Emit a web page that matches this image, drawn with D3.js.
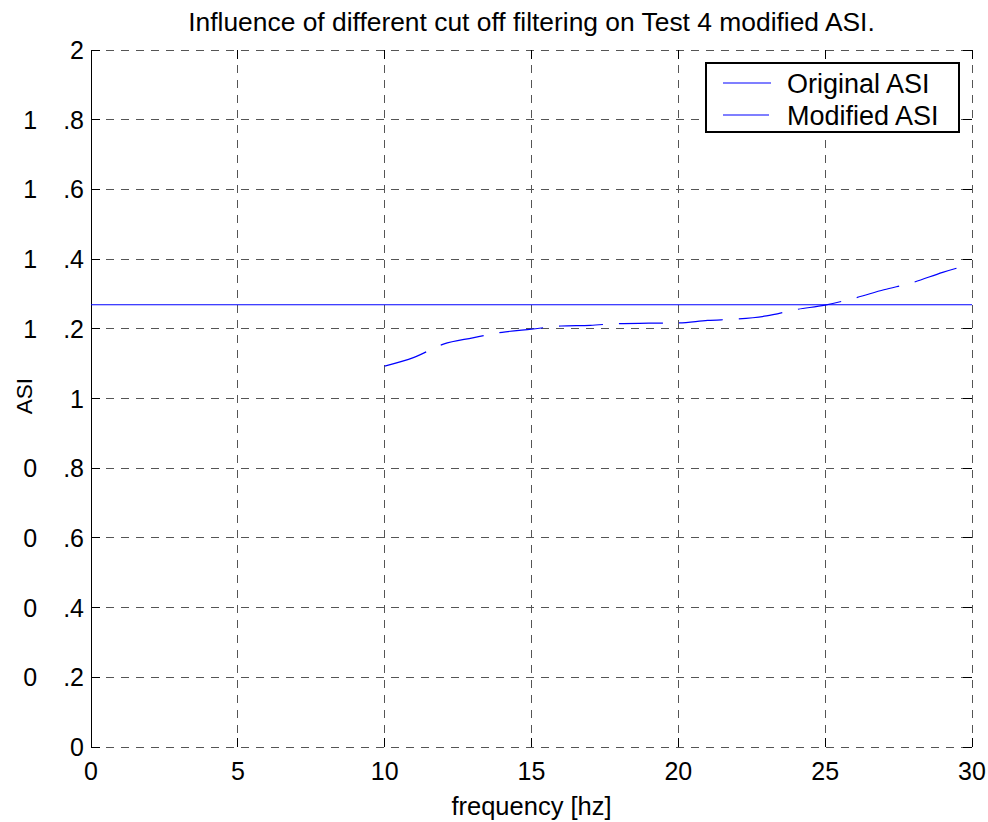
<!DOCTYPE html>
<html>
<head>
<meta charset="utf-8">
<style>
body { margin: 0; background: #fff; }
svg { font-family: "Liberation Sans", Arial, sans-serif; }
.grid line { stroke: #555; stroke-dasharray: 8,7; shape-rendering: crispEdges; }
.tick-mark { stroke: #000; shape-rendering: crispEdges; }
</style>
</head>
<body>
<svg width="988" height="822"></svg>
<script src="https://cdn.jsdelivr.net/npm/d3@7/dist/d3.min.js"></script>
<script>

var xTicks = [0, 5, 10, 15, 20, 25, 30];
var yTicks = [0, 0.2, 0.4, 0.6, 0.8, 1, 1.2, 1.4, 1.6, 1.8, 2];

// cut off frequency [hz]
var freq = [10, 11, 12, 13, 14, 15, 16, 17, 18, 19, 20, 21, 22, 23, 24, 25, 26, 27, 28, 29, 30];
var modifiedAsi = [1.093, 1.118, 1.156, 1.174, 1.190, 1.199, 1.208, 1.210, 1.215, 1.216, 1.217,
                   1.224, 1.228, 1.237, 1.255, 1.268, 1.288, 1.312, 1.333, 1.362, 1.386];
var originalAsi = 1.269;

var legendLabels = ['Original ASI', 'Modified ASI'];

var width = 988, height = 822;
var margin = {top: 50, right: 16, bottom: 75, left: 91};

var svg = d3.select('svg');

var x = d3.scaleLinear().domain([0, 30]).range([margin.left, width - margin.right]);
var y = d3.scaleLinear().domain([0, 2]).range([height - margin.bottom, margin.top]);

var x0 = x.range()[0], x1 = x.range()[1];
var y0 = y.range()[0], y1 = y.range()[1];

// grid (dashed), includes the top, right and bottom edges
var grid = svg.append('g').attr('class', 'grid');
grid.selectAll('.v').data(xTicks.filter(function (d) { return d > 0; }))
  .enter().append('line')
  .attr('x1', function (d) { return x(d); }).attr('x2', function (d) { return x(d); })
  .attr('y1', y1).attr('y2', y0);
grid.selectAll('.h').data(yTicks)
  .enter().append('line')
  .attr('y1', function (d) { return y(d); }).attr('y2', function (d) { return y(d); })
  .attr('x1', x0).attr('x2', x1);

// left axis line
svg.append('line').attr('class', 'tick-mark')
  .attr('x1', x0).attr('x2', x0).attr('y1', y1).attr('y2', y0);

// inward ticks on all sides
var tl = 9;
xTicks.forEach(function (d) {
  svg.append('line').attr('class', 'tick-mark')
    .attr('x1', x(d)).attr('x2', x(d)).attr('y1', y0).attr('y2', y0 - tl);
  svg.append('line').attr('class', 'tick-mark')
    .attr('x1', x(d)).attr('x2', x(d)).attr('y1', y1).attr('y2', y1 + tl);
});
yTicks.forEach(function (d) {
  svg.append('line').attr('class', 'tick-mark')
    .attr('x1', x0).attr('x2', x0 + tl).attr('y1', y(d)).attr('y2', y(d));
  svg.append('line').attr('class', 'tick-mark')
    .attr('x1', x1).attr('x2', x1 - tl).attr('y1', y(d)).attr('y2', y(d));
});

// tick labels
svg.selectAll('.xlab').data(xTicks).enter().append('text')
  .attr('x', function (d) { return x(d); })
  .attr('y', y0 + 33)
  .attr('text-anchor', 'middle')
  .style('font-size', '25px')
  .text(function (d) { return d; });

// y labels: the old renderer leaves a wide gap before the decimal point
var ylab = svg.selectAll('.ylab').data(yTicks).enter().append('text')
  .attr('x', x0 - 7)
  .attr('y', function (d) { return y(d); })
  .attr('dy', '0.36em')
  .attr('text-anchor', 'end')
  .style('font-size', '25px');
ylab.append('tspan').text(function (d) { return d3.format('~g')(d).split('.')[0]; });
ylab.filter(function (d) { return d % 1 !== 0; })
  .append('tspan')
  .attr('dx', 26)
  .text(function (d) { return '.' + d3.format('~g')(d).split('.')[1]; });

// lines
svg.append('line')
  .attr('x1', x0).attr('x2', x1)
  .attr('y1', y(originalAsi)).attr('y2', y(originalAsi))
  .attr('stroke', '#0000ff').attr('stroke-width', 1.2);

var line = d3.line()
  .x(function (d, i) { return x(freq[i]); })
  .y(function (d) { return y(d); })
  .curve(d3.curveMonotoneX);

svg.append('path')
  .datum(modifiedAsi)
  .attr('d', line)
  .attr('fill', 'none')
  .attr('stroke', '#0000ff')
  .attr('stroke-width', 1.2)
  .attr('stroke-dasharray', '44,16');

// titles
svg.append('text')
  .attr('x', (x0 + x1) / 2).attr('y', 31)
  .attr('text-anchor', 'middle')
  .style('font-size', '26.4px')
  .text('Influence of different cut off filtering on Test 4 modified ASI.');

svg.append('text')
  .attr('x', (x0 + x1) / 2).attr('y', 815)
  .attr('text-anchor', 'middle')
  .style('font-size', '25.5px')
  .text('frequency [hz]');

svg.append('text')
  .attr('transform', 'translate(32,396) rotate(-90)')
  .attr('text-anchor', 'middle')
  .style('font-size', '22.5px')
  .text('ASI');

// legend
var legend = svg.append('g').attr('transform', 'translate(706,63)');
legend.append('rect')
  .attr('width', 253).attr('height', 69)
  .attr('fill', '#fff').attr('stroke', '#000').attr('stroke-width', 1.2)
  .attr('shape-rendering', 'crispEdges');
legendLabels.forEach(function (label, i) {
  var ly = 20 + i * 32;
  legend.append('line')
    .attr('x1', 17).attr('x2', 65).attr('y1', ly).attr('y2', ly)
    .attr('stroke', '#0000ff').attr('stroke-width', 1.2)
    .attr('stroke-dasharray', i === 1 ? '46,2' : null);
  legend.append('text')
    .attr('x', 81).attr('y', ly + 10)
    .style('font-size', '27px')
    .text(label);
});

</script>
</body>
</html>
